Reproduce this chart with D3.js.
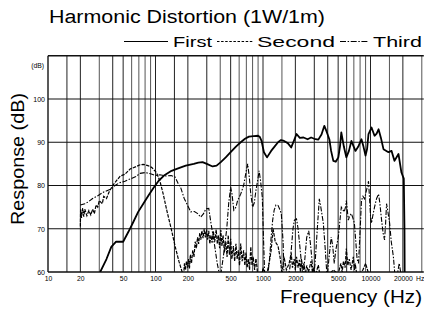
<!DOCTYPE html>
<html><head><meta charset="utf-8">
<script src="https://cdn.jsdelivr.net/npm/d3@7"></script>
<style>
html,body{margin:0;padding:0;background:#fff;overflow:hidden}
svg{display:block}
text{font-family:"Liberation Sans",Arial,Helvetica,sans-serif;fill:#000}
</style></head>
<body>
<svg id="c" width="424" height="309"></svg>
<script>
// ---- data ----
const xTickValues = [10, 20, 50, 100, 200, 500, 1000, 2000, 5000, 10000, 20000];
const yTickValues = [60, 70, 80, 90, 100];
const gridFreqs = [10,15,20,30,40,50,60,70,80,90,100,150,200,300,400,500,600,700,800,900,
  1000,1500,2000,3000,4000,5000,6000,7000,8000,9000,10000,15000,20000,30000];
const gridDb = [60, 70, 80, 90, 100, 110];

const firstFreq = [30.6,35,38.8,43,50,56,62,69,77,86,96,107,120,141,160,191,227,250,274,300,340,370,405,450,500,560,620,680,740,820,900,935,970,1020,1090,1190,1280,1380,1470,1570,1700,1830,1950,2050,2200,2380,2600,2800,3000,3270,3500,3720,3900,4140,4300,4510,4750,5020,5200,5350,5650,5960,6300,6640,7240,7700,8240,8600,8990,9300,9580,10220,10900,11400,11880,12500,13200,14700,15700,16700,18200,19400,20400,20700,20800];
const firstDb = [60,63,65.8,67,67,69.3,71.5,73.9,75.8,77.7,79.5,81.1,82.3,83.4,83.9,84.6,85.0,85.3,85.4,85.0,84.4,84.6,85.4,86.5,87.7,89,90,90.8,91.3,91.4,91.5,91.2,90.3,87.7,86.5,88,89,90,90.5,90.3,89.8,88.8,90.5,91.9,91,91.1,90.7,91.1,90.8,90.6,91.8,93.8,92.5,90.7,88,85.7,85.5,86.5,89,92.3,89,86.5,88,90.3,88,89,90.7,89,86.9,88.5,91.9,93.4,91.5,92,93,91,88.4,87.7,88,85.7,87.3,83,81.6,70,58];

const secondFreq = [20,20.1,20.5,21,21.5,22,23,24,25,26,27,28,29,30,32,33,35,37,40,43,47,52,58,65,72,77,85,92,102,110,118,128,140,152,165,178,
  183,186,190,194,199,203,207,211,216,222,228,234,240,246,252,258,264,270,277,284,291,298,305,313,320,328,336,345,355,367,376,385,395,405,415,425,438,451,463,475,487,500,513,530,545,560,575,590,605,620,640,660,678,695,712,730,750,770,790,810,835,860,880,900,960,1000,1050,
  1140,1190,1240,1300,1380,1450,1500,1570,1650,1750,1830,1880,1950,2000,2050,2120,2180,2230,2280,2350,2400,2480,2550,2650,2800,2880,2950,3050,3270,3400,4000,4500,5000,5300,5450,5600,5800,5960,6150,6340,6600,6920,7100,7200,7500,8500,9000,9500,10000,20000];
const secondDb = [70.5,74.5,72.5,74.8,72.8,74.5,73,74.2,73.2,74.5,73.5,75.5,75,76.5,75.8,77.5,77,78.5,80,81,82.2,82.6,83.8,84.3,84.8,84.9,84.6,84.2,83,81,78,74,70,66,62.5,59.8,
  59.5,62,60.5,62.5,61,63,60.8,64,62,65,63.5,67,65.5,68,66.5,69,67.5,69.5,67.8,70,68,69.8,67.5,69.5,66.5,68.5,66.8,69.5,67,69.8,66.5,68.5,65.5,69.7,66,68.5,64.5,67,63.5,68.5,64,67.7,63,66,62.5,66.5,63,65,61.5,66.6,62.5,65,61.5,64.5,61,63,60.5,65.8,61.5,63.5,60.5,63.1,61,58,58,61,58,
  62,65,70,67,66,63,59.5,63.5,60.5,62,64.4,61,63,60.5,63.5,61,62.8,60,63,60.5,62,59.5,61.5,60,62.5,60,61,59,61.6,59,59,60.5,59.5,62,60,62.5,61,65.4,61.5,63,60.5,63.5,60.5,62,59,60.5,62,60,59,59];

const thirdFreq = [20,22,23.7,26,29.3,33,38.8,42,46,52,58,65,72,80,90,100,110,125,140,152,162,171,185,199,213,230,247,263,280,294,313,328,352,375,400,430,460,480,500,515,535,560,580,620,660,700,720,745,770,800,830,860,890,920,950,985,1010,1040,1100,1150,1190,1230,1270,1320,1380,1430,1480,1510,1540,1570,1700,1780,1830,1900,1960,2050,2120,2200,2280,2350,2450,2550,2660,2750,2850,2950,3050,3200,3340,3450,3640,3800,3950,4100,4310,4450,4600,4750,5020,5200,5350,5500,5700,5850,5960,6100,6220,6400,6640,6850,7080,7300,7500,7740,7950,8240,8500,8800,9170,9400,9580,9800,10000,10220,10500,10900,11400,11880,12200,12680,13100,13510,13800,14100,14500,15060,15600,16330,16900,17500,18500,19200,19800];
const thirdDb = [75.5,75.8,76.2,77,77.7,78.5,79.2,80,80.6,81,81.5,82,82.8,83,82.7,82.3,82.5,82.2,82.3,82,80.5,79.6,77,75.4,73.9,74,73.5,72.7,73.5,74.6,74.7,71.3,66.7,62,58.5,64,70,76,79.6,78,74.3,75,76.5,78,80,83.5,85,82,78,75,76,78.9,81,83.4,81,77.3,68,58.5,58.5,63,68,72,74.3,75.5,75.4,74.5,73.5,70,66.7,58.5,58.5,61,65,70,72,72.3,70,66,62,59,63,68,69.5,67,63,58.5,62,70,76.9,75,71.3,65,58.5,63,68.1,66,62,65,68.1,72,75,74.5,73.9,75,76.5,74,72,73,73.5,72.5,71.3,67,63,62,68,76.5,77.5,76.9,78.9,80,81,77,73,71.3,73,75,77,78,76,72,69,67.4,71,75.8,74,71.3,67,63.5,59,58.5,62,59.5,58.5];

const legendLabels = ["First", "Second", "Third"];

// ---- chart ----
const svg = d3.select("#c");
const L = 48, R = 421.8, T = 55.75, B = 272;
const x = d3.scaleLog().domain([10, 30000]).range([L, R]);
const y = d3.scaleLinear().domain([60, 110]).range([B, T]);

svg.append("defs").append("clipPath").attr("id","clip")
  .append("rect").attr("x",L).attr("y",T).attr("width",R-L).attr("height",B-T);

// grid
const darkV = new Set([10,15,20,40,50,100,150,200,300,500,1000,2000,3000,4000,5000,6000,10000,20000]);
svg.append("g").selectAll("line").data(gridFreqs).join("line")
  .attr("x1", d=>x(d)).attr("x2", d=>x(d)).attr("y1", T).attr("y2", B)
  .attr("stroke", d=> darkV.has(d) ? "#222" : "#555")
  .attr("stroke-width", d=> (d===10) ? 1.5 : 1);
svg.append("g").selectAll("line").data(gridDb).join("line")
  .attr("x1", L).attr("x2", R+2).attr("y1", d=>y(d)).attr("y2", d=>y(d))
  .attr("stroke", "#111").attr("stroke-width", d => (d===60||d===110)?1.4:1.2);

// curves
const line = d3.line().x(d=>x(d[0])).y(d=>y(d[1])).curve(d3.curveLinear);
const plot = svg.append("g").attr("clip-path","url(#clip)");
const zip = (a,b) => a.map((f,i)=>[f,b[i]]);
plot.append("path").datum(zip(thirdFreq, thirdDb)).attr("d", line)
  .attr("fill","none").attr("stroke","#000").attr("stroke-width",1.1)
  .attr("stroke-dasharray","5,1.6,1.5,1.6");
plot.append("path").datum(zip(secondFreq, secondDb)).attr("d", line)
  .attr("fill","none").attr("stroke","#000").attr("stroke-width",1.2)
  .attr("stroke-dasharray","3.5,1.2");
plot.append("path").datum(zip(firstFreq, firstDb)).attr("d", line)
  .attr("fill","none").attr("stroke","#000").attr("stroke-width",1.8)
  .attr("stroke-linejoin","round");

// axes
const xAxis = d3.axisBottom(x).tickValues(xTickValues).tickSize(0).tickPadding(0)
  .tickFormat(d3.format("d"));
const gx = svg.append("g").attr("transform",`translate(0,${B+9})`).call(xAxis);
gx.select(".domain").remove();
gx.selectAll("text").attr("font-size",6.8).attr("dy",0).attr("y",0)
  .attr("font-family","Liberation Sans, Arial, sans-serif");

const yAxis = d3.axisLeft(y).tickValues(yTickValues).tickSize(0).tickPadding(0);
const gy = svg.append("g").attr("transform",`translate(${L-3},0)`).call(yAxis);
gy.select(".domain").remove();
gy.selectAll("text").attr("font-size",7).attr("font-family","Liberation Sans, Arial, sans-serif");

svg.append("text").attr("x", L-4).attr("y", 67.5).attr("text-anchor","end")
  .attr("font-size",6.8).text("(dB)");
svg.append("text").attr("x", 416).attr("y", B+9).attr("font-size",6.8).text("Hz");

// titles
svg.append("text").attr("x",49).attr("y",23).attr("font-size",18)
  .attr("textLength",276).attr("lengthAdjust","spacingAndGlyphs")
  .text("Harmonic Distortion (1W/1m)");
svg.append("text").attr("x",280).attr("y",303).attr("font-size",17.5)
  .attr("textLength",142).attr("lengthAdjust","spacingAndGlyphs")
  .text("Frequency (Hz)");
svg.append("text").attr("transform","translate(24,225) rotate(-90)")
  .attr("font-size",17.5).attr("textLength",132).attr("lengthAdjust","spacingAndGlyphs")
  .text("Response (dB)");

// legend
const legY = 41.5;
const legItems = [
  {x1:124,x2:168,dash:null,w:1.1,tx:173,tl:39},
  {x1:217,x2:253,dash:"2.5,1.6",w:1,tx:257,tl:78},
  {x1:340,x2:368,dash:"6,1.6,1.5,1.6",w:1,tx:373,tl:49}
];
const lg = svg.append("g");
legItems.forEach((it,i)=>{
  lg.append("line").attr("x1",it.x1).attr("x2",it.x2).attr("y1",legY).attr("y2",legY)
    .attr("stroke","#000").attr("stroke-width",it.w)
    .attr("stroke-dasharray",it.dash);
  lg.append("text").attr("x",it.tx).attr("y",legY+5.5).attr("font-size",15.5)
    .attr("textLength",it.tl).attr("lengthAdjust","spacingAndGlyphs").text(legendLabels[i]);
});
</script>
</body></html>
